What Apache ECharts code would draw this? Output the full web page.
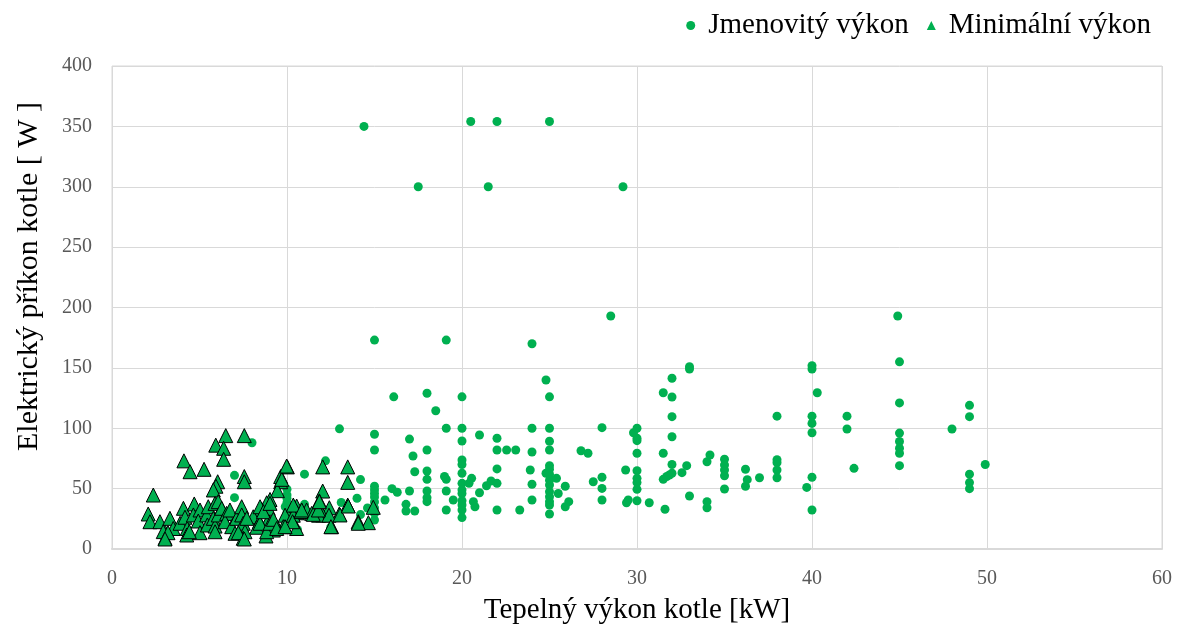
<!DOCTYPE html>
<html>
<head>
<meta charset="utf-8">
<script src="https://cdn.jsdelivr.net/npm/echarts@6/dist/echarts.min.js"></script>
<style>
html,body{margin:0;padding:0;background:#fff;}
#chart{width:1178px;height:634px;}
</style>
</head>
<body>
<div id="chart"></div>
<script>
// Series names
const seriesNames = ['Jmenovitý výkon', 'Minimální výkon'];
const xAxisTitle = 'Tepelný výkon kotle [kW]';
const yAxisTitle = 'Elektrický příkon kotle [ W ]';

// Jmenovitý výkon (nominal output) [kW, W]
const jmenovity = [
  [7,61],[7,42.5],[8,88],
  [10,49.5],[10,44.7],[10,42],[10,38.5],[10,30],[9.9,35],[10.6,16],
  [11,62],[11,37],[12.2,73],[12.3,26.7],[12.5,18],
  [13,99.5],[13.1,38.5],
  [14,42],[14.2,57.5],[14.2,28.5],[14.4,350],[14.6,34],
  [15,173],[15,95],[15,82],[15,52],[15,49],[15,46],[15,43],[15,39],[15,34],[15,29.5],[15,24],
  [15.6,40.6],[16.1,126],[16,50],[16.3,47],[16.8,37],[16.8,31.5],
  [17,48],[17,91],[17.2,77],[17.3,64],[17.3,31.5],[17.5,300],
  [18,129],[18,82],[18,64.6],[18,57.7],[18,48],[18,42.5],[18,39.2],[18.5,114.5],
  [19.1,173],[19.1,100],[19,60],[19.1,57.7],[19.1,48],[19.1,32.3],[19.5,40.6],
  [20,126],[20,100],[20,89.4],[20,73.7],[20,70],[20,62.7],[20,54.4],[20,49],[20,46],[20,40],[20,36.4],[20,32.3],[20,26],
  [20.5,354],[20.55,58.5],[20.4,54.4],[20.65,39.2],[20.74,35],
  [21,94.4],[21,46.6],[21.4,52.4],[21.5,300],[21.66,56.3],
  [22,354],[22,91.7],[22,82],[22,66.3],[22,54.4],[22,32.3],[22.55,82],[23.07,82],[23.3,32.3],
  [24,170],[24,100],[24,80.3],[23.9,65.4],[24,53.6],[24,40.6],
  [24.8,140],[24.8,62.7],
  [25,354],[25,126],[25,100],[25,89.2],[25,82],[25,69],[25,66],[25,62],[25,57],[25,53],[25,47.5],[25,43.3],[25,39.2],[25,36.4],[25,29],
  [25.4,58.5],[25.5,46],[25.9,52],[26.1,39.2],[25.9,35],
  [26.8,81.4],[27.2,79.3],[27.5,55.7],
  [28,100.5],[28,59.4],[28,50.2],[28,40.6],[28.5,193],
  [29.2,300],[29.35,65.4],[29.5,40.6],[29.4,38.3],[29.8,96.3],
  [30,100],[30,91.7],[30,89.7],[30,79.3],[30,64.8],[30,58.5],[30,55],[30,49.4],[30,40],[30.7,38.3],
  [31.5,129.4],[31.5,79.3],[31.5,57.7],[31.6,32.9],[31.7,60],[31.85,61.3],
  [32,141.4],[32,125.9],[32,109.6],[32,93],[32,70],[32,62.7],[32.57,63.2],[32.84,69],
  [33,151],[33,149],[33,43.9],
  [34,72.3],[34.17,77.8],[34,39.2],[34,34.2],
  [35,74.3],[35,69.6],[35,65.4],[35,60.7],[35,49.7],
  [36.2,66],[36.3,57.4],[36.2,52],[37,59],
  [38,110],[38,74],[38,71.5],[38,65.4],[38,59],[39.7,51],
  [40,151.8],[40,149],[40,110],[40,104],[40,96.3],[40,59.4],[40,32.3],[40.3,129.4],
  [42,110],[42,99.4],[42.4,66.8],
  [44.9,193],[45,155],[45,121],[45,96],[45,89],[45,83.4],[45,79.3],[45,69],
  [48,99.4],
  [49,119],[49,109.6],[49,62],[49,55],[49,50],[49.9,70]
];

// Minimální výkon (minimum output) [kW, W]
const minimalni = [
  [6.5,93.9],[7.56,93.9],[5.93,86],[6.38,83.4],[6.38,74.3],[4.11,73],[4.46,64],[5.26,66],
  [7.56,60],[7.56,55.7],[6.04,55.7],[5.94,52],[5.79,48.9],[2.36,44.7],[2.07,29],[2.17,22.6],
  [10.02,68],[12.04,68],[13.47,68],[13.47,55.2],[9.64,60],[9.64,55.7],[9.45,48.3],[12.04,48],
  [11.85,39.8],[12.42,34.2],[13.47,36.4],[14.93,34.5],[12.99,29],[12.04,28.2],[14.07,22.6],[14.65,21.8],
  [12.55,18.5],[10.55,35.6],[10.59,30],[11.12,32.3],[11.41,29.5],[9.89,28],[10.36,28],[10.55,17],
  [10.32,22.6],[9.79,18.5],[9.41,18.5],[8.93,24],[8.93,33.7],[9.03,41],[8.84,38.3],[8.55,32.9],
  [8.07,26.7],[8.42,22.6],[8.8,10.8],[8.27,18],[9.22,15.7],[10.8,31],[11.8,28],[12.4,28],
  [2.74,22.6],[3.03,8.9],[2.93,14.4],[3.31,25.4],[3.5,17],[3.2,13.5],[4.08,33.7],[3.89,21.3],
  [4.17,26.3],[4.3,17],[4.27,11.6],[4.7,37.3],[4.65,28.2],[5.03,32.3],[4.93,23.2],[5.03,13.5],
  [4.42,14.3],[5.41,28.2],[5.5,35],[5.45,19.9],[5.89,37.8],[5.79,25.4],[5.89,19],[5.89,14.3],
  [6.07,39.2],[6.07,28.2],[6.27,33.7],[6.55,29.5],[6.46,22.6],[6.74,32.3],[6.84,18.5],[7.03,13],
  [7.12,25.4],[7.41,35],[7.41,28.2],[7.5,21.3],[7.6,14.3],[7.5,8.9],[7.22,13.5],[7.7,25.4],
  [8.46,21.3],[8.46,35],[8.65,30.9],[9.03,37.8],[8.84,14.3],[9.03,21.3],
  [9.7,57.7],[9.98,68.7],[9.22,24.6],[9.41,17],[9.89,18.5],[10.36,36.4],[10.84,32.3],
  [11.5,28.7],[11.79,32.3],[11.85,39.2],[12.51,18.5],[13.03,28.2],[13.5,35.6],[14.07,21.3],
  [3.03,8.3],[7.56,8.3]
];

// Axis ticks
const xTicks = {min: 0, max: 60, interval: 10};
const yTicks = {min: 0, max: 400, interval: 50};

const serifFont = '"Liberation Serif", "DejaVu Serif", serif';
const green = '#00b050';

const chart = echarts.init(document.getElementById('chart'), null, {renderer: 'canvas'});
chart.setOption({
  animation: false,
  backgroundColor: '#ffffff',
  textStyle: {fontFamily: serifFont},
  legend: {
    top: 6,
    right: 22,
    itemGap: 18,
    itemWidth: 9,
    itemHeight: 9,
    textStyle: {fontFamily: serifFont, fontSize: 29, color: '#000', padding: [0, 0, 0, 8]},
    data: [
      {name: seriesNames[0], icon: 'circle', itemStyle: {color: green, borderWidth: 0}},
      {name: seriesNames[1], icon: 'triangle', itemStyle: {color: green, borderWidth: 0}}
    ]
  },
  grid: {
    left: 112, right: 16, top: 66, bottom: 85,
    show: true, borderColor: '#d9d9d9', borderWidth: 1
  },
  xAxis: {
    type: 'value',
    min: xTicks.min, max: xTicks.max, interval: xTicks.interval,
    name: xAxisTitle,
    nameLocation: 'middle',
    nameGap: 47,
    nameTextStyle: {fontFamily: serifFont, fontSize: 29, color: '#000'},
    axisLine: {show: true, lineStyle: {color: '#d9d9d9', width: 2}},
    axisTick: {show: false},
    axisLabel: {color: '#595959', fontSize: 20, margin: 20, fontFamily: serifFont},
    splitLine: {show: true, lineStyle: {color: '#d9d9d9', width: 1}}
  },
  yAxis: {
    type: 'value',
    min: yTicks.min, max: yTicks.max, interval: yTicks.interval,
    name: yAxisTitle,
    nameLocation: 'middle',
    nameGap: 68,
    nameRotate: 90,
    nameTextStyle: {fontFamily: serifFont, fontSize: 30, color: '#000', padding: [0, 0, 0, 62]},
    axisLine: {show: false},
    axisTick: {show: false},
    axisLabel: {color: '#595959', fontSize: 20, margin: 20, fontFamily: serifFont},
    splitLine: {show: true, lineStyle: {color: '#d9d9d9', width: 1}}
  },
  series: [
    {
      name: seriesNames[0],
      type: 'scatter',
      symbol: 'circle',
      symbolSize: 9,
      itemStyle: {color: green, opacity: 1},
      data: jmenovity,
      z: 2
    },
    {
      name: seriesNames[1],
      type: 'scatter',
      symbol: 'triangle',
      symbolSize: 14,
      itemStyle: {color: green, borderColor: '#000', borderWidth: 1, opacity: 1},
      data: minimalni,
      z: 3
    }
  ]
});
</script>
</body>
</html>
